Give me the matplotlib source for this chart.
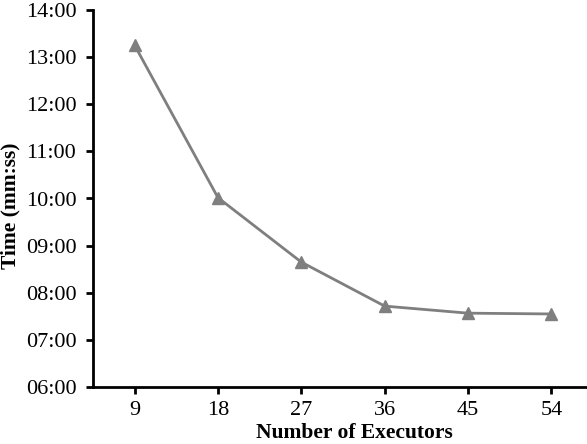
import matplotlib
matplotlib.use("Agg")
import matplotlib.pyplot as plt
from matplotlib.ticker import FuncFormatter, MultipleLocator

executors = ["9", "18", "27", "36", "45", "54"]
times = ["13:15", "10:01", "08:39", "07:43", "07:34", "07:33"]


def to_minutes(s):
    m, sec = s.split(":")
    return int(m) + int(sec) / 60.0


minutes = [to_minutes(t) for t in times]

plt.rcParams["font.family"] = ["Liberation Serif", "DejaVu Serif"]

fig = plt.figure(figsize=(5.87, 4.44), dpi=100)
ax = fig.add_axes([93 / 587, 1 - 387 / 444, 500 / 587, (387 - 10) / 444])

x = list(range(len(executors)))
ax.plot(x, minutes, color="#7f7f7f", linewidth=2, marker="^",
        markersize=8, markeredgecolor="#7f7f7f", markerfacecolor="#7f7f7f",
        clip_on=False)

ax.set_xlim(-0.5, len(executors) - 0.5)
ax.set_ylim(6, 14)
ax.yaxis.set_major_locator(MultipleLocator(1))
ax.yaxis.set_major_formatter(
    FuncFormatter(lambda v, pos: f"{int(round(v)):02d}:00"))
ax.set_xticks(x)
ax.set_xticklabels(executors)

for side in ("top", "right"):
    ax.spines[side].set_visible(False)
for side in ("left", "bottom"):
    ax.spines[side].set_linewidth(2)
    ax.spines[side].set_color("black")

ax.tick_params(axis="both", direction="out", length=5, width=2,
               labelsize=16, colors="black")
ax.tick_params(axis="x", pad=5)
ax.tick_params(axis="y", pad=7)

ax.set_xlabel("Number of Executors", fontsize=15.5, fontweight="bold")
ax.xaxis.set_label_coords(0.522, -0.095)
ax.set_ylabel("Time (mm:ss)", fontsize=15.5, fontweight="bold")
ax.yaxis.set_label_coords(-0.145, 0.48)

fig.savefig("out.png", dpi=100)
